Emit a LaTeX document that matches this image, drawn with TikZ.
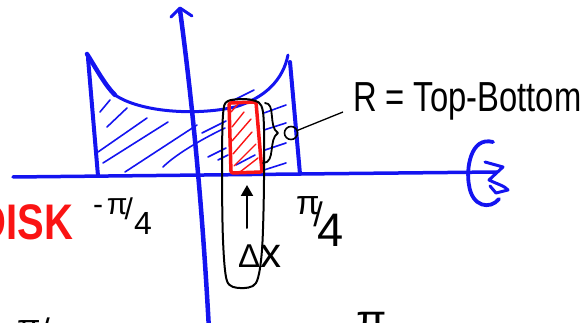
\documentclass[tikz,border=0pt]{standalone}
\usepackage{fontspec}
\setmainfont{Liberation Sans}
\usetikzlibrary{arrows.meta}
\definecolor{penblue}{RGB}{20,20,240}
\definecolor{penred}{RGB}{250,20,20}
\tikzset{
  axisline/.style={penblue,line width=4.5pt,line cap=round,line join=round},
  curveline/.style={penblue,line width=4pt,line cap=round,line join=round},
  hatch/.style={penblue,line width=1.6pt,line cap=round},
  redhatch/.style={penred,line width=1.4pt,line cap=round},
  ink/.style={black,line width=2pt,line cap=round,line join=round},
  lbl/.style={inner sep=0pt,outer sep=0pt},
}
\begin{document}
\begin{tikzpicture}[x=1pt,y=-1pt]
\useasboundingbox (0,0) rectangle (582,323);

% hatching (blue)
\draw[hatch] (100,112) -- (110,100);
\draw[hatch] (107,127) -- (127,108);
\draw[hatch] (98,152) -- (147,118);
\draw[hatch] (103,163) -- (168,122);
\draw[hatch] (125,172) -- (197,125);
\draw[hatch] (163,167) .. controls (175,155) and (200,140) .. (225,128);
\draw[hatch] (208,157) -- (226,148);
\draw[hatch] (202,133) -- (226,121);
\draw[hatch] (218,160) -- (228,155);
\draw[hatch] (232,101) -- (254,90);
\draw[hatch] (236,165) -- (255,155);
\draw[hatch] (264,113) -- (286,105);
\draw[hatch] (264,130) -- (286,123);
\draw[hatch] (265,150) -- (286,143);
\draw[hatch] (264,170) -- (286,163);

% axes
\draw[axisline,line width=3.5pt] (13,177) -- (300,174) -- (497,172);
\draw[axisline] (180,10) .. controls (192,100) and (202,200) .. (209,330);
\draw[axisline,line width=3pt] (171,17) -- (180,8) -- (192,16);

% region boundary
\draw[curveline,line width=4.5pt] (87,54) .. controls (97,70) and (105,85) .. (115,95);
\draw[curveline,line width=3pt] (115,95) .. controls (140,112) and (195,116) .. (235,107)
  .. controls (265,98) and (283,80) .. (288,55);
\draw[curveline] (88,58) -- (98,176);
\draw[curveline] (290,62) -- (300,174);

% rotation symbol
\draw[axisline,line width=3.8pt] (493,142) .. controls (470,136) and (466,170) .. (469,185)
  .. controls (472,207) and (490,210) .. (499,199);
\draw[axisline,line width=3pt] (485,162) -- (503,167) -- (489,180)
  .. controls (497,184) and (505,186) .. (508,190) -- (496,193) -- (490,186);

% red slice
\draw[redhatch] (232,127) -- (244,112);
\draw[redhatch] (232,141) -- (251,119);
\draw[redhatch] (233,154) -- (252,132);
\draw[redhatch] (234,166) -- (256,144);
\draw[redhatch] (240,172) -- (258,158);
\draw[redhatch] (231,112) -- (238,104);
\draw[penred,line width=3.5pt,line join=round,rounded corners=2pt]
  (229,103) -- (256,102) -- (262,172) -- (231,173) -- cycle;

% black outline around slice
\draw[ink] plot[smooth cycle] coordinates {(228,101) (252,100) (263,112) (264,180) (262,250) (256,283) (240,288) (227,281) (223,240) (222,170) (223,115)};

% brace, circle and leader
\draw[ink,line width=1.8pt] (265,103) .. controls (276,103) and (268,127) .. (278,133)
  .. controls (268,139) and (276,163) .. (263,163);
\node[circle,draw,black,line width=1.6pt,minimum size=13pt,inner sep=0pt] (c) at (291,133) {};
\coordinate (lend) at (343,112);
\draw[black,line width=1.3pt] (c) -- (lend);

% arrow up
\coordinate (abot) at (247,228);
\coordinate (atop) at (247,185);
\draw[ink,-{Triangle[length=11pt,width=12pt]}] (abot) -- (atop);

% texts
\node[lbl,anchor=base west] (rtext) at (353,112)
  {\scalebox{0.78}[1]{\fontsize{42}{42}\selectfont R = Top-Bottom}};
\node[lbl,anchor=base east,text=penred] (disk) at (73,240)
  {\scalebox{0.8}[1]{\fontsize{50}{50}\bfseries\selectfont DISK}};
\node[lbl,anchor=base west] (lmin) at (93,215)
  {\fontsize{30}{30}\selectfont -\hspace{4pt}π\hspace{-3pt}\raisebox{-5pt}{/}\hspace{1pt}\raisebox{-20pt}{\fontsize{32}{32}\selectfont 4}};
\node[lbl,anchor=base west] (lmax) at (296,215)
  {\fontsize{34}{34}\selectfont π\hspace{-6pt}\raisebox{-12pt}{/}\hspace{-5pt}\raisebox{-32pt}{\fontsize{47}{47}\selectfont 4}};
\node[lbl,anchor=base west] (dx) at (238,268)
  {\fontsize{33}{33}\selectfont Δ\fontsize{42}{42}\selectfont x};
\node[lbl,anchor=base west] (bmin) at (17,339)
  {\fontsize{34}{34}\selectfont π\raisebox{-4pt}{/}\raisebox{-20pt}{4}};
\node[lbl,anchor=base west] (bmax) at (356,336)
  {\fontsize{44}{44}\selectfont π};
\end{tikzpicture}
\end{document}
